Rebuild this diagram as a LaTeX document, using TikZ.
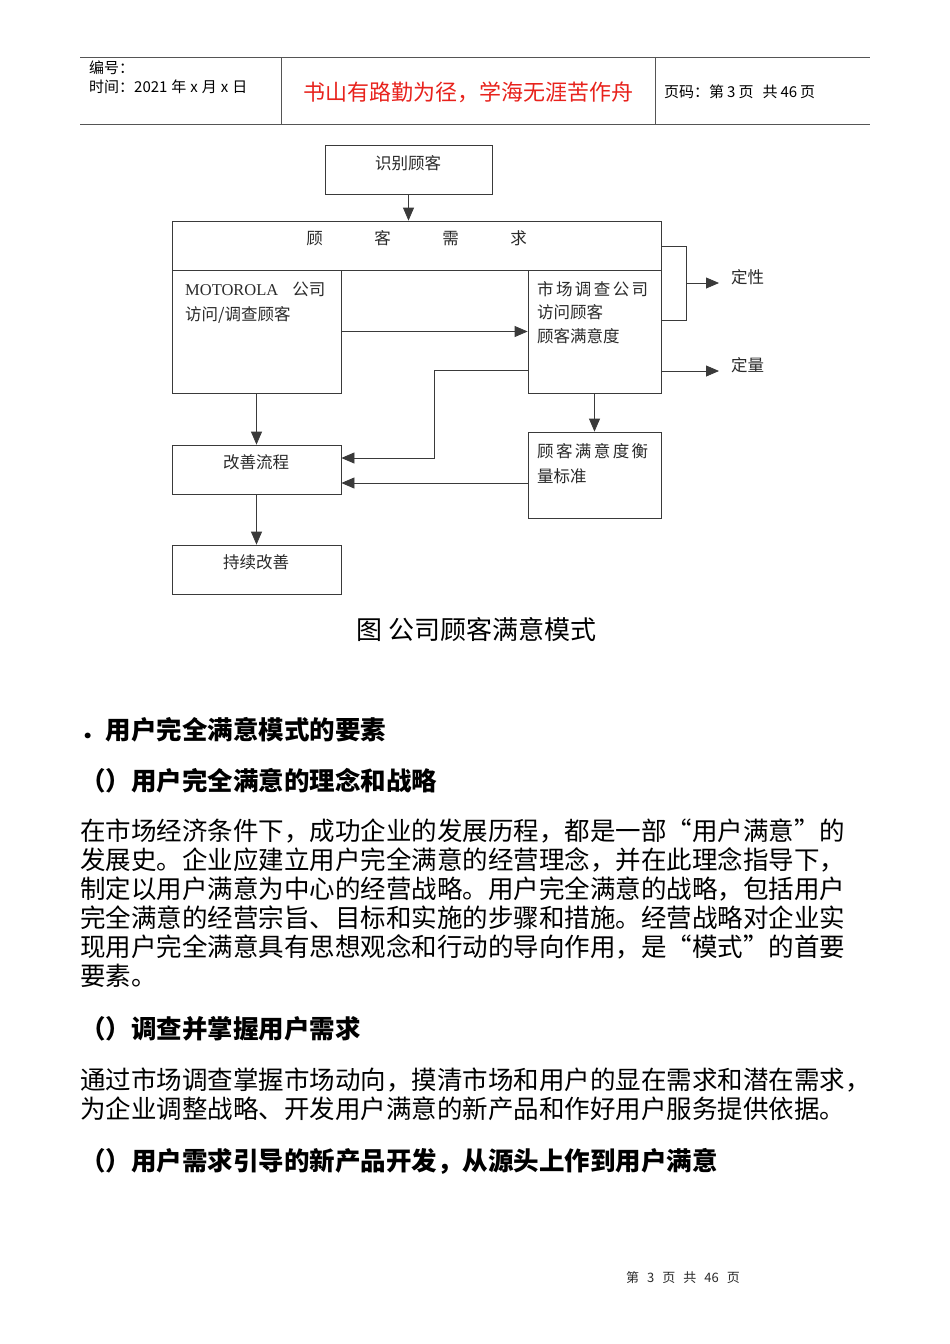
\documentclass[tikz,border=0pt]{standalone}
\usepackage{fontspec}
\newfontfamily\cjk{Noto Sans CJK SC}
\newfontfamily\serifL{Liberation Serif}
\usetikzlibrary{arrows.meta,calc}
\definecolor{linegray}{HTML}{3A3A3A}
\definecolor{hdrgray}{HTML}{555555}
\definecolor{diagtext}{HTML}{2A2A2A}
\definecolor{mottored}{HTML}{E8221C}
\begin{document}
\begin{tikzpicture}[x=1pt,y=-1pt,
  box/.style={draw=linegray, line width=0.8pt, inner sep=0pt},
  ln/.style={draw=linegray, line width=0.8pt},
  arr/.style={ln, -{Triangle[length=13pt,width=11pt]}},
  dtxt/.style={font=\cjk\fontsize{16.5}{19}\selectfont, text=diagtext, inner sep=0pt, text height=14.5pt, text depth=2pt},
  lbl/.style={dtxt, inner xsep=12pt, anchor=west},
  htxt/.style={font=\cjk\fontsize{15}{18}\selectfont, text=black, inner sep=0pt, text height=13.2pt, text depth=1.8pt, anchor=west},
  body/.style={font=\cjk\fontsize{25.5}{29}\selectfont, text=black, inner sep=0pt, text height=22.4pt, text depth=3.1pt, anchor=west},
  head/.style={body, font=\cjk\bfseries\fontsize{25.5}{29}\selectfont}
]
\useasboundingbox[fill=white] (0,0) rectangle (950,1344);

% ---------- header table ----------
\draw[draw=hdrgray, line width=1pt] (80,57) -- (870,57);
\draw[draw=hdrgray, line width=1pt] (80,124) -- (870,124);
\draw[draw=hdrgray, line width=1pt] (281,57) -- (281,124);
\draw[draw=hdrgray, line width=1pt] (655,57) -- (655,124);
\node[htxt] (h1) at (89,68) {编号：};
\node[htxt] (h2) at (89,87) {时间：2021\hspace{4pt}年\hspace{4pt}x\hspace{4pt}月\hspace{4pt}x\hspace{4pt}日};
\node[font=\cjk\fontsize{22}{26}\selectfont, text=mottored, inner sep=0pt, text height=19.4pt, text depth=2.6pt] (motto) at (468,92) {书山有路勤为径，学海无涯苦作舟};
\node[htxt] (h3) at (664,92) {页码：第\hspace{3pt}3\hspace{3pt}页\hspace{9pt}共\hspace{3pt}46\hspace{3pt}页};

% ---------- diagram boxes ----------
\node[box, minimum width=167pt, minimum height=49pt] (idc) at (408.5,169.5) {};
\node[box, minimum width=489pt, minimum height=49pt] (gkxq) at (416.5,245.5) {};
\node[box, minimum width=169pt, minimum height=123pt] (moto) at (256.5,331.5) {};
\node[box, minimum width=133pt, minimum height=123pt] (scdc) at (594.5,331.5) {};
\node[box, minimum width=169pt, minimum height=49pt] (gslc) at (256.5,469.5) {};
\node[box, minimum width=133pt, minimum height=86pt] (hlbz) at (594.5,475) {};
\node[box, minimum width=169pt, minimum height=49pt] (cxgs) at (256.5,569.5) {};

% ---------- diagram texts ----------
\node[dtxt] (t-idc) at (408,163) {识别顾客};
\node[dtxt] (t-gkxq) at (416.5,238) {顾\hspace{51.5pt}客\hspace{51.5pt}需\hspace{51.5pt}求};
\node[dtxt, anchor=west] (t-moto1) at (185,289) {{\serifL MOTOROLA}\hspace{14pt}公司};
\node[dtxt, anchor=west] (t-moto2) at (185,314) {访问/调查顾客};
\node[dtxt, anchor=west] (t-sc1) at (537,289) {市\hspace{2.4pt}场\hspace{2.4pt}调\hspace{2.4pt}查\hspace{2.4pt}公\hspace{2.4pt}司};
\node[dtxt, anchor=west] (t-sc2) at (537,312) {访问顾客};
\node[dtxt, anchor=west] (t-sc3) at (537,336) {顾客满意度};
\node[dtxt, anchor=west] (t-hl1) at (537,451) {顾\hspace{2.4pt}客\hspace{2.4pt}满\hspace{2.4pt}意\hspace{2.4pt}度\hspace{2.4pt}衡};
\node[dtxt, anchor=west] (t-hl2) at (537,476) {量标准};
\node[dtxt] (t-gslc) at (256,462) {改善流程};
\node[dtxt] (t-cxgs) at (256,562) {持续改善};
\node[lbl] (dx) at (719,277) {定性};
\node[lbl] (dl) at (719,365) {定量};

% ---------- connectors ----------
\draw[arr] (idc.south) -- (idc.south |- gkxq.north);
\draw[arr] (moto) -- (scdc);
\draw[ln] (gkxq.east |- 0,246) -- (686,246) -- (686,320) -- (scdc.east |- 0,320);
\draw[arr] (686,283) -- (dx.west |- 0,283);
\draw[arr] (scdc.east |- 0,371) -- (dl.west |- 0,371);
\draw[arr] (scdc.west |- 0,370) -| (434,458) -- (gslc.east |- 0,458);
\draw[arr] (hlbz.west |- 0,483) -- (gslc.east |- 0,483);
\draw[arr] (scdc.south) -- (hlbz.north);
\draw[arr] (moto.south) -- (gslc.north);
\draw[arr] (gslc.south) -- (cxgs.north);

% ---------- caption ----------
\node[body, font=\cjk\fontsize{26}{29}\selectfont] (cap) at (356,630) {图\hspace{6pt}公司顾客满意模式};

% ---------- body text ----------
\node[head] (s1) at (80,730) {．用户完全满意模式的要素};
\node[head] (s2) at (80,781) {（）用户完全满意的理念和战略};
\node[body] (p1) at (80,831) {在市场经济条件下，成功企业的发展历程，都是一部“用户满意”的};
\node[body] (p2) at (80,860) {发展史。企业应建立用户完全满意的经营理念，并在此理念指导下，};
\node[body] (p3) at (80,889) {制定以用户满意为中心的经营战略。用户完全满意的战略，包括用户};
\node[body] (p4) at (80,918) {完全满意的经营宗旨、目标和实施的步骤和措施。经营战略对企业实};
\node[body] (p5) at (80,947) {现用户完全满意具有思想观念和行动的导向作用，是“模式”的首要};
\node[body] (p6) at (80,976) {要素。};
\node[head] (s3) at (80,1029) {（）调查并掌握用户需求};
\node[body] (q1) at (80,1080) {通过市场调查掌握市场动向，摸清市场和用户的显在需求和潜在需求，};
\node[body] (q2) at (80,1109) {为企业调整战略、开发用户满意的新产品和作好用户服务提供依据。};
\node[head] (s4) at (80,1161) {（）用户需求引导的新产品开发，从源头上作到用户满意};

% ---------- footer ----------
\node[font=\cjk\fontsize{13}{16}\selectfont, text=diagtext, inner sep=0pt] (foot) at (683,1278) {第\hspace{8pt}3\hspace{8pt}页\hspace{8pt}共\hspace{8pt}46\hspace{8pt}页};
\end{tikzpicture}
\end{document}
